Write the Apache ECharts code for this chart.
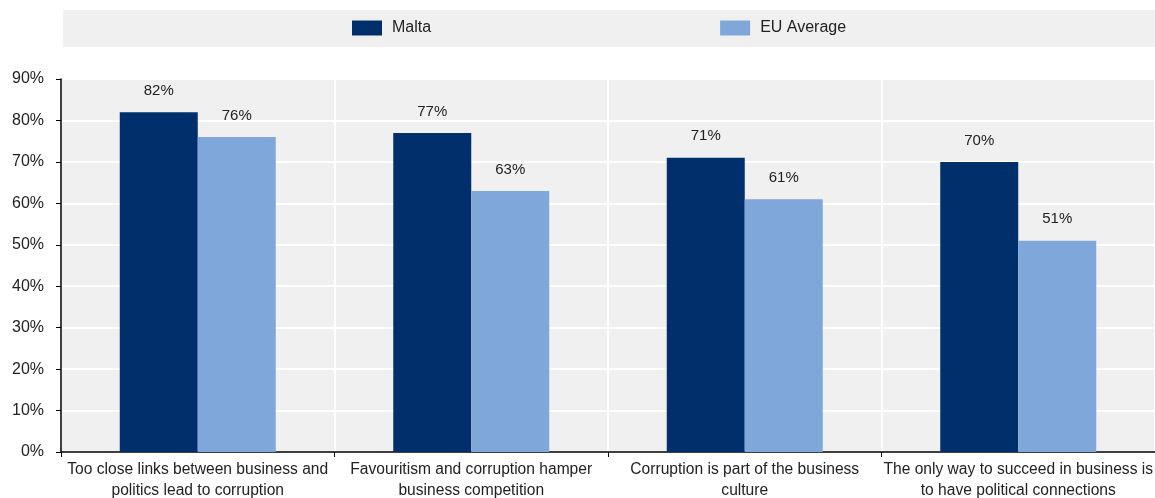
<!DOCTYPE html>
<html>
<head>
<meta charset="utf-8">
<script src="https://cdn.jsdelivr.net/npm/echarts@6/dist/echarts.min.js"></script>
<style>
  html, body { margin: 0; padding: 0; background: #fff; }
  #chart { width: 1155px; height: 498px; }
</style>
</head>
<body>
<div id="chart"></div>
<script>
const categories = [
  "Too close links between business and\npolitics lead to corruption",
  "Favouritism and corruption hamper\nbusiness competition",
  "Corruption is part of the business\nculture",
  "The only way to succeed in business is\nto have political connections"
];
const malta = [82, 77, 71, 70];
const euAverage = [76, 63, 61, 51];

var myChart = echarts.init(document.getElementById("chart"));

const labelStyle = {
  show: true,
  position: "top",
  distance: 14,
  formatter: (p) => p.value + "%",
  color: "#222",
  fontSize: 15,
  fontFamily: "Liberation Sans",
};

let option = {
  animation: false,
  textStyle: { fontFamily: "Liberation Sans", color: "#222" },
  graphic: [
    {
      type: "rect",
      left: 63,
      top: 10,
      z: -1,
      shape: { width: 1092, height: 37 },
      style: { fill: "#F0F0F0" },
    },
  ],
  legend: {
    left: 347,
    top: 15,
    itemWidth: 30,
    itemHeight: 15,
    itemGap: 289,
    icon: "rect",
    textStyle: {
      fontSize: 16,
      color: "#222",
      fontFamily: "Liberation Sans",
      padding: [0, 0, 0, 5],
    },
    data: ["Malta", "EU Average"],
  },
  grid: {
    left: 61,
    right: 0,
    top: 79,
    bottom: 46,
    show: true,
    backgroundColor: "#F0F0F0",
    borderWidth: 0,
    outerBoundsMode: "none",
    containLabel: false,
  },
  xAxis: {
    type: "category",
    data: categories,
    axisLine: { lineStyle: { color: "#000", width: 1.5 } },
    axisTick: { show: true, length: 5, lineStyle: { color: "#000" } },
    splitLine: { show: true, lineStyle: { color: "#fff", width: 2 } },
    axisLabel: {
      color: "#222",
      fontSize: 15.6,
      lineHeight: 21,
      margin: 7,
      interval: 0,
      fontFamily: "Liberation Sans",
    },
  },
  yAxis: {
    type: "value",
    min: 0,
    max: 90,
    interval: 10,
    axisLine: { show: true, lineStyle: { color: "#000", width: 1.5 } },
    axisTick: { show: true, length: 5, lineStyle: { color: "#000" } },
    splitLine: { show: true, lineStyle: { color: "#fff", width: 2 } },
    axisLabel: {
      formatter: "{value}%",
      color: "#222",
      fontSize: 16,
      margin: 17,
      fontFamily: "Liberation Sans",
    },
  },
  series: [
    {
      name: "Malta",
      type: "bar",
      data: malta,
      barWidth: 78,
      barGap: "0%",
      itemStyle: { color: "#002F6C" },
      label: labelStyle,
    },
    {
      name: "EU Average",
      type: "bar",
      data: euAverage,
      barWidth: 78,
      itemStyle: { color: "#7FA7D9" },
      label: labelStyle,
    },
  ],
};
myChart.setOption(option);
</script>
</body>
</html>
